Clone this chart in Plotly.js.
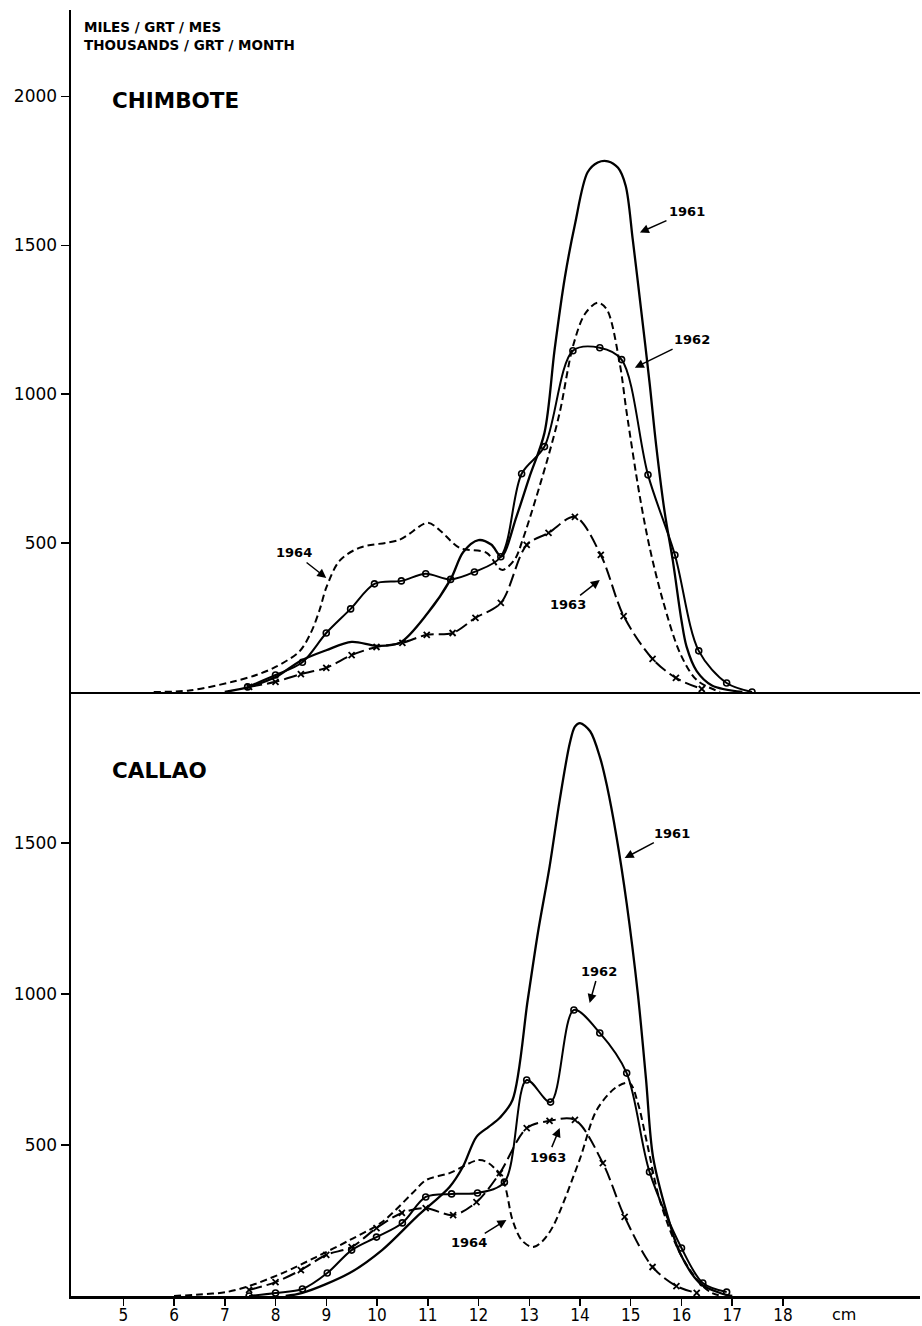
<!DOCTYPE html>
<html>
<head>
<meta charset="utf-8">
<script src="https://cdn.plot.ly/plotly-3.0.1.min.js"></script>
<style>html,body{margin:0;padding:0;background:#fff;}#chart{width:922px;height:1326px;}</style>
</head>
<body>
<div id="chart"></div>
<script>
// ---------- DATA ----------
// Upper panel: CHIMBOTE
const chim1961_x = [7.0, 7.5, 8.0, 8.5, 9.0, 9.5, 10.0, 10.45, 11.0, 11.45, 11.7, 12.0, 12.25, 12.45, 12.75, 13.0, 13.3, 13.5, 13.7, 13.9, 14.15, 14.35, 14.55, 14.75, 14.9, 15.04, 15.2, 15.37, 15.5, 15.67, 15.83, 16.0, 16.1, 16.3, 16.6, 17.2];
const chim1961_y = [0, 18, 50, 105, 140, 168, 155, 165, 265, 378, 470, 510, 495, 455, 590, 720, 870, 1150, 1390, 1570, 1745, 1778, 1782, 1760, 1700, 1519, 1290, 1040, 830, 602, 440, 240, 152, 70, 22, 0];

const chim1962_x = [7.45, 8.0, 8.53, 9.0, 9.48, 9.95, 10.48, 10.96, 11.45, 11.92, 12.44, 12.85, 13.3, 13.86, 14.39, 14.82, 15.34, 15.87, 16.34, 16.89, 17.39];
const chim1962_y = [17, 57, 100, 198, 279, 363, 373, 397, 378, 403, 454, 733, 824, 1146, 1156, 1116, 729, 460, 138, 30, 0];

const chim1963_x = [7.48, 8.0, 8.5, 9.0, 9.5, 9.99, 10.5, 10.98, 11.49, 11.94, 12.44, 12.95, 13.38, 13.9, 14.41, 14.86, 15.43, 15.89, 16.4];
const chim1963_y = [17, 34, 60, 81, 124, 151, 165, 192, 198, 249, 299, 494, 534, 588, 460, 255, 111, 47, 10];

const chim1964_x = [5.6, 6.3, 7.15, 7.62, 8.0, 8.47, 8.7, 8.87, 9.0, 9.26, 9.65, 10.44, 11.0, 11.23, 11.63, 12.16, 12.46, 12.71, 12.87, 13.34, 13.6, 13.86, 14.1, 14.35, 14.53, 14.78, 14.92, 15.18, 15.37, 15.63, 15.97, 16.3, 16.76];
const chim1964_y = [0, 5, 34, 57, 84, 136, 200, 276, 350, 440, 484, 511, 568, 544, 484, 467, 410, 444, 511, 770, 938, 1160, 1270, 1307, 1284, 1106, 938, 655, 487, 309, 131, 40, 0];

// Lower panel: CALLAO
const call1961_x = [8.2, 8.53, 9.46, 10.1, 10.78, 11.43, 11.69, 11.96, 12.2, 12.42, 12.67, 12.97, 13.17, 13.4, 13.6, 13.8, 13.9, 14.0, 14.2, 14.4, 14.53, 14.72, 14.92, 15.14, 15.3, 15.44, 15.71, 15.97, 16.36, 16.76, 17.0];
const call1961_y = [0, 10, 76, 152, 262, 361, 427, 527, 560, 590, 649, 980, 1202, 1421, 1642, 1831, 1885, 1897, 1870, 1780, 1690, 1520, 1300, 1000, 720, 460, 275, 142, 43, 10, 0];

const call1962_x = [7.48, 8.0, 8.53, 9.02, 9.5, 9.99, 10.5, 10.96, 11.47, 11.98, 12.51, 12.95, 13.42, 13.88, 14.39, 14.92, 15.37, 16.0, 16.42, 16.89];
const call1962_y = [0, 10, 23, 76, 152, 195, 242, 328, 338, 341, 377, 715, 642, 947, 871, 738, 411, 159, 43, 13];

const call1963_x = [7.48, 8.0, 8.5, 9.0, 9.5, 9.99, 10.49, 10.96, 11.5, 11.96, 12.42, 12.95, 13.4, 13.9, 14.45, 14.88, 15.43, 15.9, 16.3];
const call1963_y = [20, 46, 86, 136, 162, 225, 275, 291, 268, 311, 407, 556, 580, 583, 440, 262, 96, 33, 10];

const call1964_x = [6.0, 6.5, 7.03, 7.48, 8.14, 8.8, 9.46, 10.1, 10.7, 10.97, 11.43, 12.0, 12.2, 12.48, 12.67, 12.85, 13.07, 13.25, 13.46, 13.99, 14.33, 14.72, 14.98, 15.14, 15.32, 15.57, 15.97, 16.36, 16.6, 16.8];
const call1964_y = [0, 5, 13, 33, 76, 129, 185, 245, 341, 384, 407, 450, 440, 384, 252, 185, 162, 180, 228, 450, 616, 692, 705, 639, 507, 318, 142, 43, 10, 0];

const xTickVals = [5, 6, 7, 8, 9, 10, 11, 12, 13, 14, 15, 16, 17, 18];
const yTopTicks = [500, 1000, 1500, 2000];
const yBotTicks = [500, 1000, 1500];
const yearLabels = ['1961', '1962', '1963', '1964'];

// ---------- STYLE ----------
const K = '#000';
function mk(xs, ys, xa, ya, kind) {
  const t = {x: xs, y: ys, xaxis: xa, yaxis: ya, type: 'scatter', hoverinfo: 'skip',
    line: {color: K, width: 2, shape: 'spline', smoothing: 0.9}};
  if (kind === 'y1961') { t.mode = 'lines'; t.line.width = 2.3; }
  if (kind === 'y1962') { t.mode = 'lines+markers'; t.marker = {symbol: 'circle-open', size: 6, color: K, line: {color: K, width: 1.6}}; }
  if (kind === 'y1963') { t.mode = 'lines+markers'; t.line.dash = '13px,5px'; t.marker = {symbol: 'x-thin', size: 6, color: K, line: {color: K, width: 1.8}}; }
  if (kind === 'y1964') { t.mode = 'lines'; t.line.dash = '7px,4px'; }
  return t;
}

const traces = [
  mk(chim1961_x, chim1961_y, 'x2', 'y2', 'y1961'),
  mk(chim1962_x, chim1962_y, 'x2', 'y2', 'y1962'),
  mk(chim1963_x, chim1963_y, 'x2', 'y2', 'y1963'),
  mk(chim1964_x, chim1964_y, 'x2', 'y2', 'y1964'),
  mk(call1961_x, call1961_y, 'x', 'y', 'y1961'),
  mk(call1962_x, call1962_y, 'x', 'y', 'y1962'),
  mk(call1963_x, call1963_y, 'x', 'y', 'y1963'),
  mk(call1964_x, call1964_y, 'x', 'y', 'y1964')
];

const tickFont = {family: 'DejaVu Sans, sans-serif', size: 17, color: K};
const labFont = {family: 'DejaVu Sans, sans-serif', size: 13, color: K};
const XR = [3.97, 20.7];

function arrow(xref, yref, x, y, ax, ay, text) {
  return {xref: xref, yref: yref, x: x, y: y, ax: ax, ay: ay, text: '<b>' + text + '</b>',
    showarrow: true, arrowhead: 2, arrowsize: 1.2, arrowwidth: 1.5, arrowcolor: K,
    standoff: 0, startstandoff: 1, font: labFont};
}

const hdrFont = {family: 'DejaVu Sans, sans-serif', size: 13.5, color: K};
const annotations = [
  {xref: 'paper', yref: 'paper', x: 0.013, y: 0.987, xanchor: 'left', yanchor: 'middle', showarrow: false,
   text: '<b>MILES / GRT / MES</b>', font: hdrFont},
  {xref: 'paper', yref: 'paper', x: 0.013, y: 0.973, xanchor: 'left', yanchor: 'middle', showarrow: false,
   text: '<b>THOUSANDS / GRT / MONTH</b>', font: hdrFont},
  {xref: 'paper', yref: 'paper', x: 0.046, y: 0.930, xanchor: 'left', yanchor: 'middle', showarrow: false,
   text: '<b>CHIMBOTE</b>', font: {family: 'DejaVu Sans, sans-serif', size: 21.5, color: K}},
  {xref: 'paper', yref: 'paper', x: 0.046, y: 0.409, xanchor: 'left', yanchor: 'middle', showarrow: false,
   text: '<b>CALLAO</b>', font: {family: 'DejaVu Sans, sans-serif', size: 21.5, color: K}},
  // Chimbote year labels
  arrow('x2', 'y2', 15.18, 1543, 47, -21, yearLabels[0]),
  arrow('x2', 'y2', 15.08, 1089, 57, -28, yearLabels[1]),
  arrow('x2', 'y2', 14.39, 376, -32, 25, yearLabels[2]),
  arrow('x2', 'y2', 9.0, 383, -32, -25, yearLabels[3]),
  // Callao year labels
  arrow('x', 'y', 14.88, 1450, 47, -25, yearLabels[0]),
  arrow('x', 'y', 14.19, 970, 9, -32, yearLabels[1]),
  arrow('x', 'y', 13.6, 556, -12, 29, yearLabels[2]),
  arrow('x', 'y', 12.55, 252, -37, 23, yearLabels[3]),
  // unit label
  {xref: 'x', yref: 'paper', x: 19.2, y: 0, yanchor: 'middle', yshift: -18, showarrow: false,
   text: 'cm', font: {family: 'DejaVu Sans, sans-serif', size: 16, color: K}}
];

const axisCommon = {showline: true, linecolor: K, linewidth: 2.5, showgrid: false, zeroline: false,
  ticks: 'outside', ticklen: 8, tickwidth: 1.5, tickcolor: K, tickfont: tickFont, fixedrange: true};

const layout = {
  width: 922, height: 1326,
  margin: {l: 71, r: 2, t: 10, b: 30},
  paper_bgcolor: '#fff', plot_bgcolor: '#fff',
  showlegend: false,
  font: {family: 'DejaVu Sans, sans-serif', color: K},
  xaxis: Object.assign({}, axisCommon, {domain: [0, 1], anchor: 'y', range: XR, tickmode: 'array', tickvals: xTickVals,
    ticklen: 7, ticklabelstandoff: -5,
    tickfont: {family: 'DejaVu Sans Condensed, DejaVu Sans, sans-serif', size: 17, color: K}}),
  yaxis: Object.assign({}, axisCommon, {domain: [0, 0.4697], anchor: 'x', range: [0, 2000], tickmode: 'array', tickvals: yBotTicks}),
  xaxis2: Object.assign({}, axisCommon, {domain: [0, 1], anchor: 'y2', range: XR, ticks: '', showticklabels: false}),
  yaxis2: Object.assign({}, axisCommon, {domain: [0.4697, 1], anchor: 'x2', range: [0, 2290], tickmode: 'array', tickvals: yTopTicks}),
  annotations: annotations
};

Plotly.newPlot('chart', traces, layout, {displayModeBar: false, staticPlot: true});
</script>
</body>
</html>
